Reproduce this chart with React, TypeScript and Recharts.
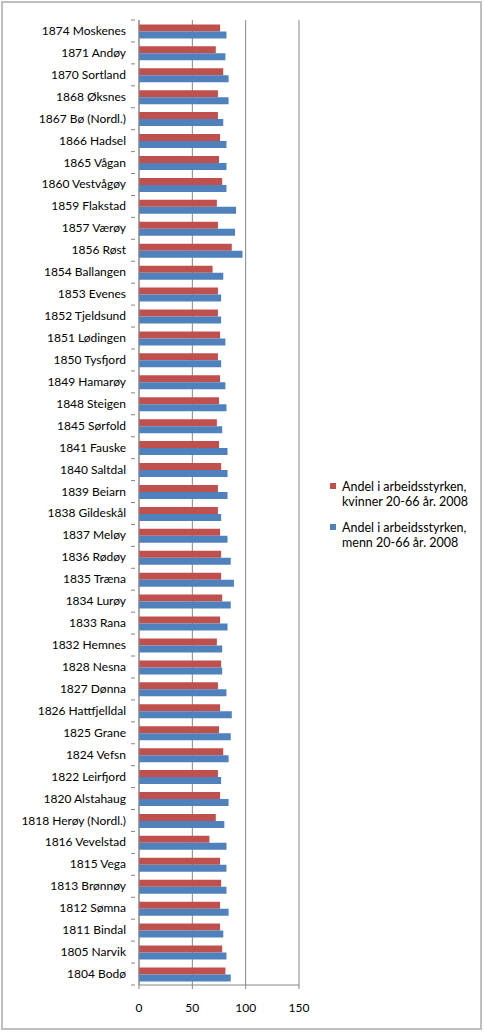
import React from "react";
import { BarChart, Bar, XAxis, YAxis, CartesianGrid } from "recharts";

const kommuner = [
  "1874 Moskenes", "1871 Andøy", "1870 Sortland", "1868 Øksnes", "1867 Bø (Nordl.)",
  "1866 Hadsel", "1865 Vågan", "1860 Vestvågøy", "1859 Flakstad", "1857 Værøy",
  "1856 Røst", "1854 Ballangen", "1853 Evenes", "1852 Tjeldsund", "1851 Lødingen",
  "1850 Tysfjord", "1849 Hamarøy", "1848 Steigen", "1845 Sørfold", "1841 Fauske",
  "1840 Saltdal", "1839 Beiarn", "1838 Gildeskål", "1837 Meløy", "1836 Rødøy",
  "1835 Træna", "1834 Lurøy", "1833 Rana", "1832 Hemnes", "1828 Nesna",
  "1827 Dønna", "1826 Hattfjelldal", "1825 Grane", "1824 Vefsn", "1822 Leirfjord",
  "1820 Alstahaug", "1818 Herøy (Nordl.)", "1816 Vevelstad", "1815 Vega", "1813 Brønnøy",
  "1812 Sømna", "1811 Bindal", "1805 Narvik", "1804 Bodø",
];

const kvinner = [
  76, 72, 79, 74, 74, 76, 75, 78, 73, 74,
  87, 69, 74, 74, 76, 74, 76, 75, 73, 75,
  77, 74, 74, 76, 77, 77, 78, 76, 73, 77,
  74, 76, 75, 79, 74, 76, 72, 66, 76, 77,
  76, 76, 78, 81,
];

const menn = [
  82, 81, 84, 84, 79, 82, 82, 82, 91, 90,
  97, 79, 77, 77, 81, 77, 81, 82, 78, 83,
  83, 83, 77, 83, 86, 89, 86, 83, 78, 78,
  82, 87, 86, 84, 77, 84, 80, 82, 82, 82,
  84, 79, 82, 86,
];

const xTicks = [0, 50, 100, 150];

const legendItems = [
  { color: "#C0504D", lines: ["Andel i arbeidsstyrken,", "kvinner 20-66 år. 2008"] },
  { color: "#4F81BD", lines: ["Andel i arbeidsstyrken,", "menn 20-66 år. 2008"] },
];

const data = kommuner.map((name, i) => ({ name, kvinner: kvinner[i], menn: menn[i] }));

const font = "Lato, 'Open Sans', sans-serif";

const CategoryTick = (props: any) => {
  const { x, y, payload, index, visibleTicksCount } = props;
  const half = payload.offset || 0;
  const ax = x + 4;
  return (
    <g>
      <line x1={ax - 4} x2={ax} y1={y - half} y2={y - half} stroke="#868686" />
      {index === visibleTicksCount - 1 && (
        <line x1={ax - 4} x2={ax} y1={y + half} y2={y + half} stroke="#868686" />
      )}
      <text x={x - 5} y={y} dy={4} textAnchor="end" fontSize={12} fill="#000" fontFamily={font}>
        {payload.value}
      </text>
    </g>
  );
};

export default function App() {
  return (
    <div style={{ position: "absolute", left: 0, top: 0, width: 484, height: 1032, background: "#fff" }}>
      <div
        style={{
          position: "absolute",
          left: 1,
          top: 1,
          width: 477,
          height: 1025,
          border: "2px solid #bfbfbf",
        }}
      />
      <div style={{ position: "absolute", left: 0, top: 0 }}>
        <BarChart
          width={484}
          height={1032}
          data={data}
          layout="vertical"
          margin={{ top: 20, right: 185, bottom: 17, left: 0 }}
          barCategoryGap="20%"
          barGap={0}
        >
          <CartesianGrid horizontal={false} stroke="#868686" />
          <XAxis
            type="number"
            domain={[0, 150]}
            ticks={xTicks}
            interval={0}
            height={30}
            tickSize={4}
            tickMargin={14}
            stroke="#868686"
            tick={{ fill: "#000", fontSize: 12, fontFamily: font }}
          />
          <YAxis
            type="category"
            dataKey="name"
            width={139}
            interval={0}
            tickLine={false}
            stroke="#868686"
            tick={<CategoryTick />}
          />
          <Bar dataKey="kvinner" fill="#C0504D" isAnimationActive={false} />
          <Bar dataKey="menn" fill="#4F81BD" isAnimationActive={false} />
        </BarChart>
      </div>
      <div style={{ position: "absolute", left: 330, top: 480, fontFamily: font, fontSize: 12.5, color: "#000" }}>
        {legendItems.map((item, i) => (
          <div key={i} style={{ position: "relative", height: 41 }}>
            <div
              style={{
                position: "absolute",
                left: 0,
                top: 3,
                width: 6,
                height: 6,
                background: item.color,
              }}
            />
            {item.lines.map((l, j) => (
              <div key={j} style={{ position: "absolute", left: 12, top: j * 15 - 1, lineHeight: "15px", whiteSpace: "nowrap" }}>
                {l}
              </div>
            ))}
          </div>
        ))}
      </div>
    </div>
  );
}
